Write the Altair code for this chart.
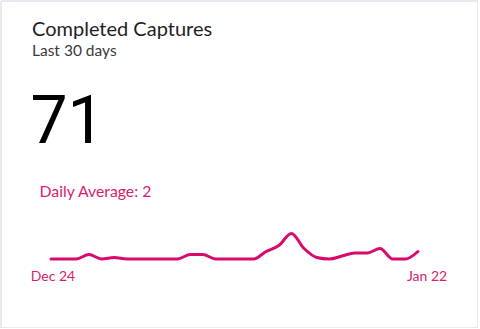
import altair as alt
import pandas as pd

# ---- data ----
start_date = "2023-12-24"
daily_counts = [0, 0, 0, 3, 0, 1, 0, 0, 0, 0,
                0, 3, 3, 0, 0, 0, 0, 5, 9, 17,
                7, 1, 0, 2, 4, 4, 7, 0, 0, 5]
tick_labels = ["Dec 24", "Jan 22"]
title_text = "Completed Captures"
subtitle_text = "Last 30 days"
total_text = str(sum(daily_counts))
avg_text = "Daily Average: " + str(sum(daily_counts) // len(daily_counts))

dates = pd.date_range(start_date, periods=len(daily_counts), freq="D")
df = pd.DataFrame({"date": dates, "count": daily_counts})
ticks_df = pd.DataFrame({"date": [dates[0], dates[-1]], "label": tick_labels})

PINK = "#d80a6c"
TEXT_PINK = "#d81d6c"
FONT = "Lato"

xscale = alt.Scale(range=[50.5, 417.5])
yscale = alt.Scale(domain=[0, 17], range=[258.5, 233], nice=False, zero=True)

line = alt.Chart(df).mark_line(
    color=PINK, strokeWidth=3, interpolate="monotone", strokeCap="round", strokeJoin="round"
).encode(
    x=alt.X("date:T", scale=xscale, axis=None),
    y=alt.Y("count:Q", scale=yscale, axis=None),
)

tick_first = alt.Chart(ticks_df.iloc[[0]]).mark_text(
    font=FONT, fontSize=14, color=TEXT_PINK, align="center", baseline="alphabetic", dx=2
).encode(
    x=alt.X("date:T", scale=xscale, axis=None),
    y=alt.value(280),
    text="label:N",
)
tick_last = alt.Chart(ticks_df.iloc[[1]]).mark_text(
    font=FONT, fontSize=14, color=TEXT_PINK, align="center", baseline="alphabetic", dx=9
).encode(
    x=alt.X("date:T", scale=xscale, axis=None),
    y=alt.value(280),
    text="label:N",
)

def label(txt, x, y, size, color, weight="normal", font=FONT):
    return alt.Chart(pd.DataFrame({"t": [txt]})).mark_text(
        font=font, fontSize=size, color=color, align="left", baseline="alphabetic",
        fontWeight=weight,
    ).encode(x=alt.value(x), y=alt.value(y), text="t:N")

title = label(title_text, 31.5, 35, 20, "#1f1f1f")
subtitle = label(subtitle_text, 31.5, 55, 15.5, "#3a3a3a")
big = label(total_text, 30, 142, 66, "#000000", weight="normal", font="Roboto")
avg = label(avg_text, 39, 196, 15.8, TEXT_PINK)

chart = alt.layer(line, tick_first, tick_last, title, subtitle, big, avg).properties(
    width=477, height=327,
    autosize=alt.AutoSizeParams(type="none"),
    padding={"left": 0.5, "top": 0.5, "right": 0, "bottom": 0},
    background="white",
).configure_view(stroke="#cfd6de", strokeWidth=1).resolve_scale(x="shared", y="shared")

chart.save("out.html", embed_options={"renderer": "svg", "actions": False})
